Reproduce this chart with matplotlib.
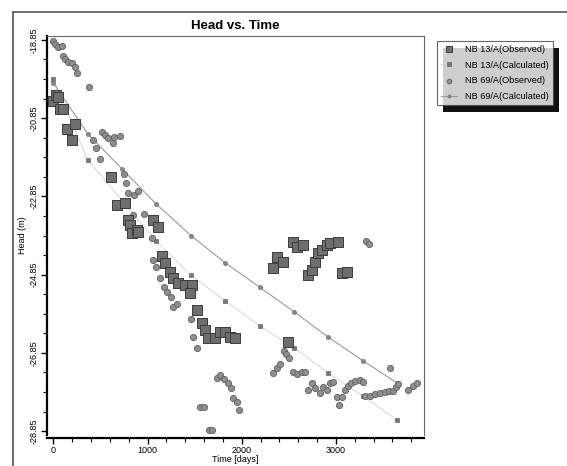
import matplotlib
matplotlib.use("Agg")
import numpy as np
import matplotlib.pyplot as plt
from matplotlib.lines import Line2D
from matplotlib.patches import Rectangle
from matplotlib.ticker import MultipleLocator, FixedLocator, FormatStrFormatter

plt.rcParams['font.family'] = ['Liberation Sans', 'DejaVu Sans']

# NB 13/A observed (days, head m)
t13_obs = [0, 25, 45, 71, 103, 145, 230, 199,
           610, 677, 761, 793, 814, 836, 889, 899,
           1058, 1111,
           1154, 1186, 1239, 1271, 1324, 1398, 1473, 1451,
           1525, 1579, 1610, 1642, 1716, 1769, 1822, 1875, 1928,
           2332, 2375, 2438, 2545, 2587, 2651,
           2704, 2746, 2778, 2810, 2853, 2906, 2937, 3022,
           3064, 3118, 2491]
h13_obs = [-20.40, -20.25, -20.30, -20.61, -20.61, -21.12, -21.00, -21.41,
           -22.35, -23.07, -23.02, -23.45, -23.58, -23.79, -23.71, -23.76,
           -23.45, -23.63,
           -24.37, -24.55, -24.78, -24.94, -25.06, -25.12, -25.12, -25.32,
           -25.76, -26.09, -26.27, -26.47, -26.47, -26.32, -26.32, -26.45, -26.47,
           -24.68, -24.40, -24.53, -24.02, -24.14, -24.09,
           -24.86, -24.73, -24.53, -24.30, -24.22, -24.09, -24.04, -24.02,
           -24.81, -24.78, -26.57]

# NB 69/A observed
t69_obs = [0, 18, 50, 92, 103, 124, 156, 199, 231, 252, 379,
           517, 549, 581, 645, 708, 634, 421, 453, 496,
           750, 772, 793, 857, 899, 846, 963, 1048,
           1058, 1090, 1133, 1175, 1207, 1250, 1271, 1313, 1430,
           1462, 1483, 1525, 1557, 1600, 1653, 1685,
           1738, 1770, 1812, 1855, 1887, 1908, 1950, 1971,
           2332, 2375, 2406, 2449, 2470, 2502,
           2544, 2587, 2640, 2672,
           2746, 2704, 2778, 2831, 2863, 2906, 2937, 2969,
           3012, 3065, 3033,
           3097, 3128, 3160, 3202, 3255, 3287,
           3308, 3362, 3415, 3468, 3521, 3564, 3606, 3638, 3659,
           3574, 3765, 3818, 3861, 3319, 3351]
h69_obs = [-18.88, -18.95, -19.03, -19.00, -19.26, -19.33, -19.41, -19.44, -19.54, -19.70, -20.05,
           -21.20, -21.28, -21.36, -21.33, -21.31, -21.48, -21.41, -21.61, -21.89,
           -22.28, -22.51, -22.76, -22.81, -22.71, -23.32, -23.30, -23.91,
           -24.48, -24.66, -24.94, -25.17, -25.30, -25.42, -25.68, -25.60, -25.06,
           -25.98, -26.45, -26.73, -28.24, -28.24, -28.82, -28.82,
           -27.49, -27.42, -27.52, -27.62, -27.75, -28.01, -28.11, -28.31,
           -27.37, -27.24, -27.14, -26.80, -26.88, -26.98,
           -27.34, -27.39, -27.34, -27.34,
           -27.62, -27.80, -27.75, -27.88, -27.72, -27.80, -27.62, -27.60,
           -27.98, -27.98, -28.18,
           -27.80, -27.70, -27.62, -27.57, -27.55, -27.60,
           -27.95, -27.95, -27.90, -27.88, -27.85, -27.83, -27.83, -27.72, -27.65,
           -27.24, -27.80, -27.70, -27.62, -23.99, -24.07]

# calculated heads (yearly)
t_calc = [0, 365, 730, 1095, 1460, 1825, 2190, 2555, 2920, 3285, 3650]
h13_calc = [-19.85, -21.92, -22.95, -24.00, -24.86, -25.52, -26.16, -26.72, -27.37, -27.95, -28.57]
h69_calc = [-19.95, -21.25, -22.15, -23.05, -23.85, -24.55, -25.17, -25.80, -26.45, -27.05, -27.62]

W, H = 567, 466
fig = plt.figure(figsize=(W / 100, H / 100), dpi=100)
ax = fig.add_axes([47 / W, 1 - 435 / H, 377 / W, 399 / H])

ax.plot(t_calc, h13_calc, '-', color='#d6d6d6', lw=0.7, marker='s', ms=3,
        mfc='#777777', mec='#555555', mew=0.4, label='NB 13/A(Calculated)', zorder=2)
ax.plot(t_calc, h69_calc, '-', color='#9a9a9a', lw=0.8, marker='o', ms=3,
        mfc='#888888', mec='#666666', mew=0.4, label='NB 69/A(Calculated)', zorder=2)
ax.scatter(t69_obs, h69_obs, s=20, marker='o', c='#8e8e8e', edgecolors='#5e5e5e',
           linewidths=0.6, label='NB 69/A(Observed)', zorder=3)
ax.scatter(t13_obs, h13_obs, s=45, marker='s', c='#6e6e6e', edgecolors='#3c3c3c',
           linewidths=0.7, label='NB 13/A(Observed)', zorder=4)

ax.set_xlim(-67, 3935)
ax.set_ylim(-28.95, -18.75)
ax.xaxis.set_major_locator(MultipleLocator(1000))
ax.xaxis.set_minor_locator(MultipleLocator(200))
yt = [-18.85, -20.85, -22.85, -24.85, -26.85, -28.85]
ax.yaxis.set_major_locator(FixedLocator(yt))
ax.yaxis.set_minor_locator(FixedLocator(np.arange(-28.85, -18.8, 0.5)))
ax.yaxis.set_major_formatter(FormatStrFormatter('%.2f'))
ax.tick_params(axis='both', which='major', labelsize=6.5, length=4, width=1, direction='out', pad=2)
ax.tick_params(axis='both', which='minor', length=3, width=0.8, direction='out')
ax.tick_params(axis='y', labelrotation=90)
for lab in ax.get_yticklabels():
    lab.set_va('center')

for s in ['top', 'right']:
    ax.spines[s].set_color('#666666')
    ax.spines[s].set_linewidth(0.8)
for s in ['left', 'bottom']:
    ax.spines[s].set_color('black')
    ax.spines[s].set_linewidth(1.6)
ax.spines['bottom'].set_position(('outward', 2))

ax.set_xlabel('Time [days]', fontsize=6.5, labelpad=0)
ax.set_ylabel('Head (m)', fontsize=6.5, labelpad=2)
fig.text(235 / W, 1 - 26 / H, 'Head vs. Time', ha='center', va='center',
         fontsize=9.5, fontweight='bold')

# outer panel border
fig.add_artist(Line2D([13 / W, 13 / W], [0, 1 - 12 / H], color='#555555', lw=1.2))
fig.add_artist(Line2D([13 / W, 1], [1 - 12 / H, 1 - 12 / H], color='#555555', lw=1.2))

handles, labels = ax.get_legend_handles_labels()
order = [labels.index(l) for l in ['NB 13/A(Observed)', 'NB 13/A(Calculated)',
                                    'NB 69/A(Observed)', 'NB 69/A(Calculated)']]
leg = fig.legend([handles[i] for i in order], [labels[i] for i in order],
                 loc='upper left', bbox_to_anchor=(432 / W, 1 - 36 / H),
                 fontsize=6.6, frameon=True, fancybox=False, edgecolor='#444444',
                 borderpad=0.45, labelspacing=0.75, handlelength=1.8, handletextpad=0.9,
                 markerscale=0.75)
leg.get_frame().set_linewidth(0.8)

fig.canvas.draw()
bb = leg.get_window_extent().transformed(fig.transFigure.inverted())
shadow = Rectangle((bb.x0 + 6 / W, bb.y0 - 7 / H), bb.width, bb.height,
                   transform=fig.transFigure, facecolor='#111111', edgecolor='none', zorder=0)
fig.add_artist(shadow)
leg.set_zorder(5)

fig.savefig('out.png', dpi=100)
